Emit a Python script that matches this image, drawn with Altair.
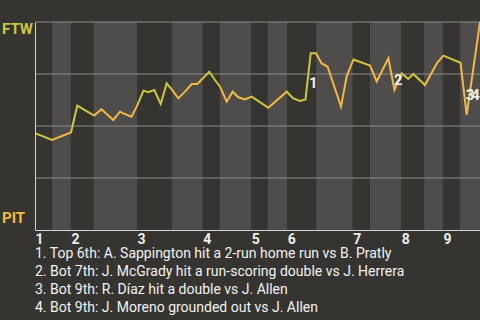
import json
import altair as alt
import pandas as pd

# ---- data ----
# end of each half inning, in plate-appearance units (top 1st, bot 1st, ...)
half_end = [3.0, 6.3, 10.3, 17.9, 24.0, 29.4, 32.4, 37.9, 40.8, 44.2,
            49.3, 55.7, 58.7, 64.2, 68.2, 71.5, 74.5, 78.0]

play_x = [0.0, 2.98, 6.31, 7.41, 10.34, 11.66, 13.72, 14.90, 15.48, 16.91,
          17.83, 19.02, 19.86, 20.91, 22.03, 23.08, 23.96, 25.12, 26.29, 27.47,
          28.45, 30.55, 31.55, 32.43, 33.60, 34.65, 35.64, 36.81, 37.98, 40.89,
          44.12, 45.28, 46.45, 47.41, 48.33, 49.25, 50.25, 51.27, 53.64, 54.64,
          55.83, 58.72, 59.89, 61.93, 63.01, 64.28, 65.43, 66.31, 68.36, 70.46,
          71.57, 74.58, 75.67, 78.0]
win_prob = [0.466, 0.433, 0.469, 0.598, 0.550, 0.580, 0.529, 0.569, 0.561, 0.545,
            0.593, 0.670, 0.663, 0.673, 0.606, 0.705, 0.676, 0.633, 0.665, 0.702,
            0.702, 0.761, 0.721, 0.689, 0.617, 0.665, 0.638, 0.628, 0.641, 0.588,
            0.665, 0.633, 0.620, 0.628, 0.850, 0.850, 0.801, 0.786, 0.593, 0.740,
            0.820, 0.791, 0.714, 0.825, 0.673, 0.753, 0.726, 0.750, 0.697, 0.803,
            0.838, 0.804, 0.553, 1.0]

grid_vals = [0.25, 0.5, 0.75, 1.0]

event_num = ["1", "2", "3", "4"]
event_x = [48.8, 63.7, 76.25, 77.2]
event_y = [0.705, 0.721, 0.649, 0.649]

notes = [
    "1. Top 6th: A. Sappington hit a 2-run home run vs B. Pratly",
    "2. Bot 7th: J. McGrady hit a run-scoring double vs J. Herrera",
    "3. Bot 9th: R. Díaz hit a double vs J. Allen",
    "4. Bot 9th: J. Moreno grounded out vs J. Allen",
]

teams = ["FTW", "PIT"]
team_wp = [1.0, 0.0]

# ---- styles ----
BG = "#363430"
LIGHT = "#4e4d4b"
GREEN = "#cbc83f"
ORANGE = "#f4b842"
FONT = "Roboto"

half_start = [0.0] + half_end[:-1]
bands = pd.DataFrame({
    "x0": half_start,
    "x1": half_end,
    "half": ["top" if i % 2 == 0 else "bot" for i in range(len(half_end))],
})
inning_start = half_start[::2]

line_df = pd.DataFrame({"x": play_x, "wp": win_prob})
grid_df = pd.DataFrame({"g": grid_vals})
ev_df = pd.DataFrame({"n": event_num, "x": event_x, "wp": event_y})
notes_df = pd.DataFrame({"k": list(range(1, len(notes) + 1)), "note": notes})
team_df = pd.DataFrame({"team": teams, "wp": team_wp, "x": [0.0, 0.0]})

xmin, xmax = play_x[0], play_x[-1]
stops = []
for i, (s, e) in enumerate(zip(half_start, half_end)):
    c = GREEN if i % 2 == 0 else ORANGE
    stops.append(alt.GradientStop(color=c, offset=(s - xmin) / (xmax - xmin)))
    stops.append(alt.GradientStop(color=c, offset=(e - xmin) / (xmax - xmin)))

xscale = alt.Scale(domain=[0, 78], nice=False, zero=False)
yscale = alt.Scale(domain=[0, 1], nice=False)

label_expr = "'' + (indexof(" + json.dumps(inning_start) + ", datum.value) + 1)"

band_layer = alt.Chart(bands).mark_rect().encode(
    x=alt.X("x0:Q", scale=xscale),
    x2="x1:Q",
    y=alt.datum(1.0, scale=yscale),
    y2=alt.datum(0.0),
    color=alt.condition("datum.half == 'top'", alt.value(BG), alt.value(LIGHT)),
)

grid_layer = alt.Chart(grid_df).mark_rule(color="#8c8b89", strokeWidth=1).encode(
    y=alt.Y("g:Q", scale=yscale),
)

line_layer = alt.Chart(line_df).mark_line(
    strokeWidth=2,
    stroke=alt.LinearGradient(gradient="linear", stops=stops, x1=0, x2=1, y1=0, y2=0),
).encode(
    x=alt.X("x:Q", scale=xscale, axis=alt.Axis(
        values=inning_start, labelExpr=label_expr, title=None, ticks=False, grid=False,
        labelAlign="left", labelFont=FONT, labelFontWeight="bold", labelFontSize=14,
        labelColor="#eeeeee", labelPadding=2, domainColor="#d2d2d2", labelFlush=False,
        labelOverlap=False, zindex=1)),
    y=alt.Y("wp:Q", scale=yscale, axis=alt.Axis(
        labels=False, ticks=False, grid=False, title=None, domainColor="#d2d2d2", zindex=1)),
    order="x:Q",
)

ev_layer = alt.Chart(ev_df).mark_text(
    font=FONT, fontWeight="bold", fontSize=15, color="#eeeeee",
    align="center", baseline="middle",
).encode(
    x=alt.X("x:Q", scale=xscale),
    y=alt.Y("wp:Q", scale=yscale),
    text="n:N",
)

team_top = alt.Chart(team_df.iloc[[0]]).mark_text(
    font=FONT, fontWeight="bold", fontSize=15, color=GREEN,
    align="left", baseline="top", dx=-33,
).encode(x=alt.X("x:Q", scale=xscale), y=alt.Y("wp:Q", scale=yscale), text="team:N")

team_bot = alt.Chart(team_df.iloc[[1]]).mark_text(
    font=FONT, fontWeight="bold", fontSize=15, color=ORANGE,
    align="left", baseline="bottom", dx=-33, dy=-4,
).encode(x=alt.X("x:Q", scale=xscale), y=alt.Y("wp:Q", scale=yscale), text="team:N")

main = alt.layer(band_layer, grid_layer, line_layer, ev_layer, team_top, team_bot)

notes_layer = alt.Chart(notes_df).mark_text(
    font=FONT, fontSize=14, color="#f2f2f2", align="left", baseline="alphabetic",
).encode(
    x=alt.value(0),
    y=alt.Y("k:Q", scale=alt.Scale(domain=[1, 4], range=[236.3, 289.7]), axis=None),
    text="note:N",
)

chart = alt.layer(main, notes_layer).resolve_scale(y="independent").properties(
    width=445, height=208,
    autosize=alt.AutoSizeParams(type="none"),
    padding={"left": 35, "top": 22, "right": 0, "bottom": 90},
    background=BG,
).configure_view(stroke=None)

chart.save("out.html", embed_options={"renderer": "svg", "actions": False})
